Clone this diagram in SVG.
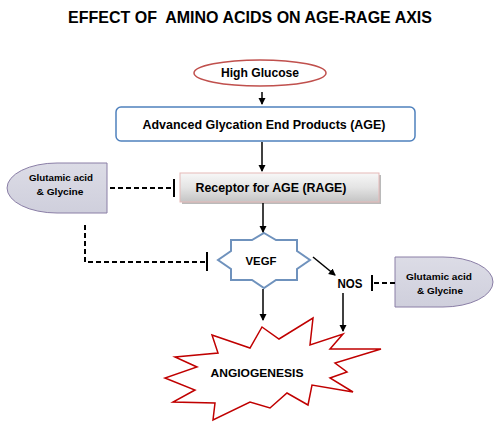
<svg xmlns="http://www.w3.org/2000/svg" width="500" height="424" viewBox="0 0 500 424">
<defs>
<linearGradient id="gGray" x1="0" y1="0" x2="0" y2="1">
<stop offset="0" stop-color="#f7f7f7"/>
<stop offset="0.5" stop-color="#e4e4e4"/>
<stop offset="1" stop-color="#c4c4c4"/>
</linearGradient>
<linearGradient id="gLav" x1="0" y1="0" x2="0" y2="1">
<stop offset="0" stop-color="#dcdce6"/>
<stop offset="1" stop-color="#cfcfdc"/>
</linearGradient>
<marker id="arr" markerWidth="8" markerHeight="8" refX="6" refY="4" orient="auto" markerUnits="userSpaceOnUse">
<path d="M0,0.5 L7,4 L0,7.5 Z" fill="#000"/>
</marker>
</defs>
<style>
text{font-family:"Liberation Sans",Arial,sans-serif;font-weight:bold;fill:#000;text-anchor:middle}
.ln{stroke:#000;stroke-width:1.5;fill:none}
.ds{stroke:#000;stroke-width:2;fill:none;stroke-dasharray:5,3}
.bar{stroke:#000;stroke-width:2;fill:none}
.small{font-size:8.5px}
</style>
<rect width="500" height="424" fill="#fff"/>
<text x="250" y="23" font-size="17" textLength="364" lengthAdjust="spacingAndGlyphs" xml:space="preserve">EFFECT OF  AMINO ACIDS ON AGE-RAGE AXIS</text>

<g id="high-glucose">
<ellipse cx="260" cy="73" rx="66" ry="13" fill="#fff" stroke="#c0504d" stroke-width="1.5"/>
<text x="260" y="77" font-size="12" textLength="78" lengthAdjust="spacingAndGlyphs">High Glucose</text>
</g>

<g id="age">
<rect x="116" y="107" width="299" height="34" rx="5" fill="#fff" stroke="#4f81bd" stroke-width="1.5"/>
<text x="264" y="129" font-size="12.5" textLength="243" lengthAdjust="spacingAndGlyphs">Advanced Glycation End Products (AGE)</text>
</g>

<g id="rage">
<rect x="182" y="175" width="199" height="29" fill="#8c8c8c" opacity="0.6"/>
<rect x="180" y="173" width="199" height="29" fill="url(#gGray)" stroke="#e6b9b8" stroke-width="1"/>
<text x="271" y="192" font-size="12.5" textLength="151" lengthAdjust="spacingAndGlyphs">Receptor for AGE (RAGE)</text>
</g>

<g id="amino-left">
<path d="M107,163 L57,163 A50,25 0 0 0 57,213 L107,213 Z" fill="url(#gLav)" stroke="#8a7ea6" stroke-width="1"/>
<text class="small" x="61" y="181" textLength="64" lengthAdjust="spacingAndGlyphs">Glutamic acid</text>
<text class="small" x="60" y="195" textLength="47" lengthAdjust="spacingAndGlyphs">&amp; Glycine</text>
</g>

<g id="vegf">
<polygon points="264,233 276,240 297,240 297,251 310,260 297,269 297,280 276,280 264,288 252,280 231,280 231,269 218,260 231,251 231,240 252,240" fill="#fff" stroke="#6f92bd" stroke-width="2"/>
<text x="261" y="265" font-size="11" textLength="31" lengthAdjust="spacingAndGlyphs">VEGF</text>
</g>

<g id="nos">
<text x="350" y="288" font-size="12" textLength="25" lengthAdjust="spacingAndGlyphs">NOS</text>
</g>

<g id="amino-right">
<path d="M395,257 L443,257 A50,25 0 0 1 443,307 L395,307 Z" fill="url(#gLav)" stroke="#8a7ea6" stroke-width="1"/>
<text class="small" x="439" y="280" textLength="66" lengthAdjust="spacingAndGlyphs">Glutamic acid</text>
<text class="small" x="440" y="294" textLength="46" lengthAdjust="spacingAndGlyphs">&amp; Glycine</text>
</g>

<g id="angiogenesis">
<polygon points="262,327 279,339 313,318 310,345 343,334 330,349 381,349 335,363 347,372 330,378 353,392 312,385 308,405 287,393 270,408 250,402 213,420 215,403 173,402 195,390 165,378 197,367 175,357 218,353 212,335 250,348" fill="#fff" stroke="#c00000" stroke-width="1.5" stroke-linejoin="miter"/>
<text x="257" y="377" font-size="11" textLength="93" lengthAdjust="spacingAndGlyphs">ANGIOGENESIS</text>
</g>

<g id="connectors">
<line class="ln" x1="262" y1="92" x2="262" y2="104" marker-end="url(#arr)"/>
<line class="ln" x1="262" y1="142" x2="262" y2="171" marker-end="url(#arr)"/>
<line class="ln" x1="263" y1="203" x2="263" y2="232" marker-end="url(#arr)"/>
<line class="ln" x1="313" y1="257" x2="335" y2="275" marker-end="url(#arr)"/>
<line class="ln" x1="263" y1="289" x2="263" y2="320" marker-end="url(#arr)"/>
<line class="ln" x1="343" y1="293" x2="343" y2="331" marker-end="url(#arr)"/>
<line class="ds" x1="110" y1="188" x2="173" y2="188"/>
<line class="bar" x1="174" y1="179" x2="174" y2="197"/>
<path class="ds" d="M85,225 L85,262 L206,262"/>
<line class="bar" x1="207" y1="252" x2="207" y2="271"/>
<line class="ds" x1="374" y1="283" x2="395" y2="283"/>
<line class="bar" x1="372" y1="275" x2="372" y2="291"/>
</g>
</svg>
